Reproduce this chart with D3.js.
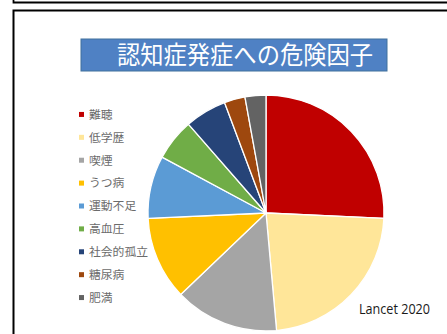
<!DOCTYPE html>
<html>
<head>
<meta charset="utf-8">
<script src="https://cdn.jsdelivr.net/npm/d3@7"></script>
<style>
  html, body { margin: 0; padding: 0; background: #fff; }
  svg { display: block; }
</style>
</head>
<body>
<svg id="chart" width="447" height="334"></svg>
<script>
// Risk factors for dementia (Lancet Commission), share of preventable cases
const factors = ["難聴", "低学歴", "喫煙", "うつ病", "運動不足", "高血圧", "社会的孤立", "糖尿病", "肥満"];
const values = [9, 8, 5, 4, 3, 2, 2, 1, 1];
const colors = ["#c00000", "#ffe699", "#a5a5a5", "#ffc000", "#5b9bd5", "#70ad47", "#264478", "#9e480e", "#636363"];
const titleText = "認知症発症への危険因子";
const sourceText = "Lancet 2020";

const svg = d3.select("#chart");
const jp = "'Noto Sans CJK JP', 'Noto Sans', sans-serif";

// panel frames
svg.append("path").attr("d", "M13.5,0 V2.5 H460").attr("fill", "none").attr("stroke", "#000").attr("stroke-width", 1.8);
svg.append("path").attr("d", "M13.5,340 V10.5 H460").attr("fill", "none").attr("stroke", "#000").attr("stroke-width", 2);

// title banner
svg.append("rect").attr("x", 81).attr("y", 39).attr("width", 306).attr("height", 32)
  .attr("fill", "#4f81c4").attr("stroke", "#41719c").attr("stroke-width", 1);
svg.append("text").attr("x", 117).attr("y", 64)
  .attr("font-family", jp).attr("font-size", 24.5).attr("fill", "#fff")
  .attr("textLength", 256).attr("lengthAdjust", "spacingAndGlyphs")
  .text(titleText);

// pie
const cx = 266, cy = 213, r = 118;
const pie = d3.pie().sort(null).value(d => d)(values);
const arc = d3.arc().innerRadius(0).outerRadius(r);
const g = svg.append("g").attr("transform", `translate(${cx},${cy})`);
g.selectAll("path").data(pie).join("path")
  .attr("d", arc)
  .attr("fill", (d, i) => colors[i])
  .attr("stroke", "#fff").attr("stroke-width", 1.3).attr("stroke-linejoin", "round");

// legend
const legend = d3.scaleBand().domain(factors).range([103, 309]).padding(0);
const lg = svg.append("g");
factors.forEach((f, i) => {
  const y = legend(f) + legend.bandwidth() / 2;
  lg.append("rect").attr("x", 79).attr("y", y - 2.5).attr("width", 5).attr("height", 5).attr("fill", colors[i]);
  lg.append("text").attr("x", 89).attr("y", y + 4.3)
    .attr("font-family", jp).attr("font-size", 11.8).attr("fill", "#6b6b6b").text(f);
});

// source note
svg.append("text").attr("x", 359).attr("y", 313.5)
  .attr("font-family", "'Open Sans', 'Liberation Sans', sans-serif").attr("font-size", 14).attr("fill", "#1a1a1a")
  .attr("textLength", 71).attr("lengthAdjust", "spacingAndGlyphs")
  .text(sourceText);
</script>
</body>
</html>
